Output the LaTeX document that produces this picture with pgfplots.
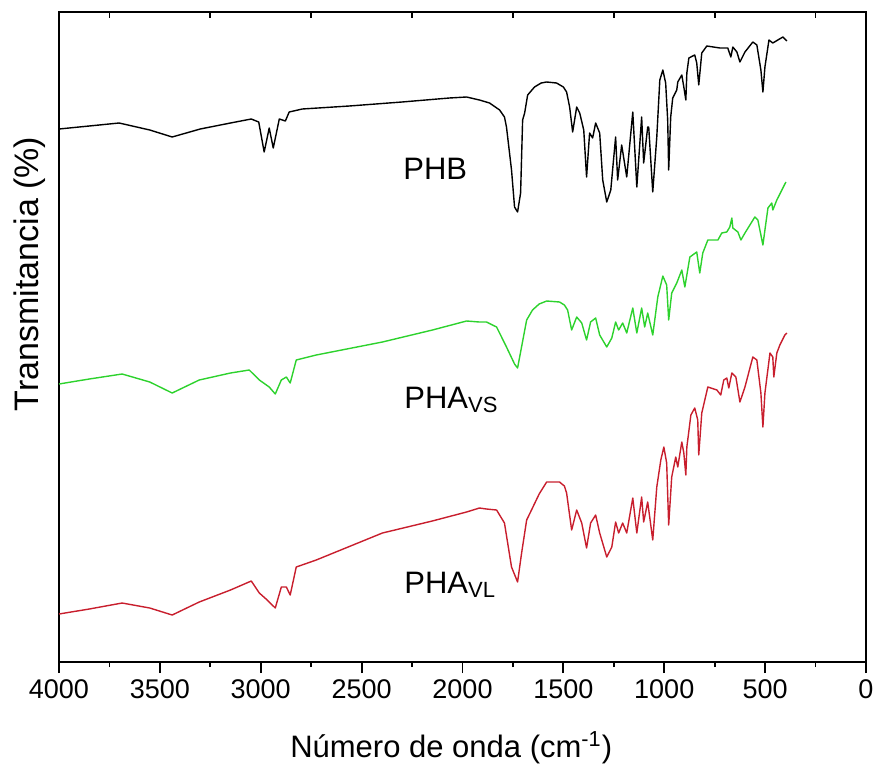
\documentclass[border=0pt]{standalone}
\usepackage{fontspec}
\setmainfont{Liberation Sans}
\usepackage{pgfplots}
\pgfplotsset{compat=1.18}
\definecolor{vsgreen}{RGB}{45,210,45}
\definecolor{vlred}{RGB}{200,30,45}

\begin{document}
\begin{tikzpicture}
\begin{axis}[
    name=ax,
    width=403.5pt, height=325pt, scale only axis,
    xmin=0, xmax=4000, x dir=reverse,
    ymin=0, ymax=650,
    xtick={0,500,...,4000},
    minor x tick num=1,
    xtick pos=left, ytick=\empty,
    tick align=outside,
    major tick length=5.5pt, minor tick length=2.5pt,
    every tick/.style={black, line width=0.9pt},
    axis line style={line width=1pt},
    scaled x ticks=false,
    /pgf/number format/.cd, 1000 sep={}, assume math mode=true,
    /pgfplots/.cd,
    tick label style={font=\fontsize{13.5}{16}\selectfont},
    xlabel={Número de onda (cm\textsuperscript{-1})},
    ylabel={Transmitancia (\%)},
    xlabel style={font=\fontsize{15.5}{18}\selectfont, at={(axis description cs:0.486,0)}, anchor=base, yshift=-47.5pt},
    ylabel style={font=\fontsize{17}{20}\selectfont, at={(axis description cs:0,0.597)}, anchor=center, yshift=14.5pt},
    every axis plot/.append style={line width=0.7pt, mark=none, line join=round},
  ]

% PHB
\addplot[black] coordinates {
(4000,533) (3850,536) (3702,539) (3550,532) (3439,525) (3300,533) (3150,539)
(3047,543) (3010,540) (2983,510) (2958,534) (2938,514)
(2908,543) (2878,541) (2859,550) (2794,553) (2561,556) (2300,560) (2065,564)
(1980,565) (1916,562) (1866,559) (1816,552) (1792,545) (1782,535) (1757,492)
(1742,455) (1727,450) (1712,469) (1702,542) (1692,549) (1677,567) (1643,575)
(1610,579) (1583,580) (1534,579) (1500,575) (1484,570) (1469,555)
(1454,530) (1434,555) (1419,549) (1399,532) (1385,485) (1370,529) (1355,524)
(1340,539) (1320,529) (1305,482) (1285,460) (1265,472) (1256,492) (1241,525)
(1231,482) (1211,517) (1186,485) (1156,550) (1136,475) (1112,545) (1102,499)
(1082,535) (1077,535) (1057,470) (1037,525) (1022,582) (1007,592) (993,579)
(983,542) (978,492) (968,545) (958,564) (938,572) (933,580) (913,587)
(903,575) (893,562) (888,589) (878,604) (849,607) (839,599) (829,577)
(814,609) (789,616) (724,614) (685,614) (670,605) (660,615) (640,610)
(625,600) (600,610) (561,620) (541,617) (521,592) (511,570) (501,595)
(481,622) (462,619) (437,622) (412,625) (392,621)
};

% PHA VS
\addplot[vsgreen] coordinates {
(4000,278) (3850,283) (3687,288) (3550,280) (3439,269) (3305,282) (3150,289)
(3057,292) (3007,282) (2958,275)
(2928,268) (2898,282) (2873,285) (2854,279) (2824,302) (2725,307) (2397,320)
(2149,332) (1980,341) (1916,340) (1881,340) (1831,335) (1782,315) (1742,298)
(1727,294) (1712,310) (1682,342) (1653,352) (1620,358) (1583,361) (1519,360)
(1495,357) (1479,352)
(1459,332) (1434,345) (1409,339) (1385,322) (1365,340) (1340,344) (1320,327)
(1285,315) (1260,324) (1241,340) (1226,332) (1206,339) (1186,329) (1156,354)
(1136,329) (1112,354) (1097,335) (1082,349) (1057,327) (1032,365) (1007,386)
(988,377) (978,342) (963,369) (938,379) (913,392) (898,375) (873,405)
(839,410) (824,389) (809,409) (784,422) (734,422) (715,429) (690,430)
(675,435) (665,444) (660,434) (635,430) (620,422) (600,429) (551,445)
(536,442) (511,417) (501,432) (486,454) (467,459) (462,452) (442,462)
(417,472) (397,480)
};

% PHA VL
\addplot[vlred] coordinates {
(4000,48) (3850,53) (3687,59) (3550,54) (3439,47) (3305,60) (3150,72)
(3047,81) (3007,69) (2968,62)
(2928,54) (2898,75) (2873,75) (2854,67) (2824,95) (2725,102) (2397,129)
(2150,141) (1980,150) (1916,154) (1881,153) (1831,152) (1792,139) (1757,95)
(1727,80) (1707,109) (1682,142) (1658,152) (1620,168) (1583,180) (1519,180)
(1495,176) (1484,169) (1459,132)
(1434,152) (1409,139) (1385,114) (1365,139) (1340,147) (1320,129) (1285,105)
(1260,115) (1241,140) (1226,129) (1206,139) (1186,129) (1156,164) (1136,129)
(1112,165) (1102,140) (1082,160) (1057,122) (1037,175) (1017,202) (1002,215)
(988,199) (978,137) (963,185) (943,205) (933,195) (913,220) (903,209)
(893,187) (888,215) (868,247) (849,254) (834,242) (829,207) (814,249)
(784,275) (739,272) (720,267) (705,282) (690,284) (680,274) (665,289)
(645,285) (625,260) (600,275) (561,305) (541,302) (521,269) (511,235)
(501,269) (476,309) (462,305) (457,285) (442,309) (427,317) (402,327)
(392,329)
};

\node[anchor=base west, font=\fontsize{15.5}{18}\selectfont] at (axis cs:2328,483) {PHB};
\node[anchor=base west, font=\fontsize{15.5}{18}\selectfont] at (axis cs:2323,254) {PHA\raisebox{-0.3ex}{\fontsize{11}{12}\selectfont VS}};
\node[anchor=base west, font=\fontsize{15.5}{18}\selectfont] at (axis cs:2323,69) {PHA\raisebox{-0.3ex}{\fontsize{11}{12}\selectfont VL}};
\end{axis}

% top ticks (inward, between the bottom labels)
\begin{axis}[
    at={(ax.south west)}, anchor=south west,
    width=403.5pt, height=325pt, scale only axis,
    xmin=0, xmax=4000, x dir=reverse,
    ymin=0, ymax=650,
    axis line style={draw=none},
    xtick={250,750,...,3750}, xticklabels={},
    xtick pos=right, ytick=\empty,
    tick align=inside, major tick length=3pt,
    every tick/.style={black, line width=0.9pt},
  ]
\end{axis}

\pgfresetboundingbox
\path[use as bounding box] ([xshift=-29.5pt,yshift=-52.5pt]ax.south west) rectangle ([xshift=4pt,yshift=6pt]ax.north east);
\end{tikzpicture}
\end{document}
